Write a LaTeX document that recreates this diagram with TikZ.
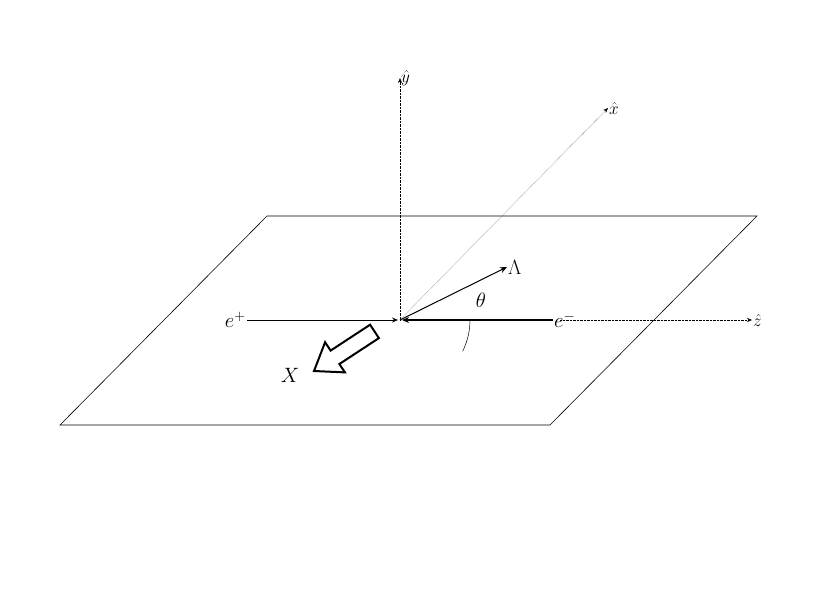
\documentclass[tikz,border=0pt]{standalone}
\usetikzlibrary{arrows.meta}
\begin{document}
\begin{tikzpicture}[x=1pt,y=-1pt,
  lbl/.style={font=\fontsize{22}{26}\selectfont,inner sep=1pt},
  hat/.style={font=\fontsize{16}{19}\selectfont,inner sep=1pt},
  axis/.style={densely dotted,-{Stealth[length=5pt,width=4pt]}},
  beam/.style={line width=1pt,-{Stealth[length=7pt,width=6pt]}}]
\useasboundingbox (0,0) rectangle (817,613);
\coordinate (o) at (400,320);
\draw[line width=0.6pt] (60,425) -- (550,425) -- (757,216) -- (267,216) -- cycle;
\coordinate (ye) at (400,78);
\coordinate (xe) at (608,108);
\coordinate (zs) at (560,320);
\coordinate (ze) at (752,320);
\draw[axis] (o) -- (ye);
\draw[axis] (o) -- (xe);
\draw[axis] (zs) -- (ze);
\node[hat,anchor=west] (yl) at (ye) {$\hat y$};
\node[hat,anchor=west] (xl) at (xe) {$\hat x$};
\node[hat,anchor=west] (zl) at (ze) {$\hat z$};
\coordinate (ep) at (247,320);
\coordinate (em) at (553,320);
\draw[line width=0.8pt,-{Stealth[length=6pt,width=5pt]}] (ep) -- (398,320);
\draw[line width=1.2pt,-{Stealth[length=7pt,width=6pt]}] (em) -- (402,320);
\node[lbl,anchor=east] (epl) at (ep) {$e^+$};
\node[lbl,anchor=west] (eml) at (em) {$e^-$};
\coordinate (L) at (507,267);
\draw[beam] (o) -- (L);
\node[lbl,anchor=west] (Ll) at (L) {$\Lambda$};
\draw[line width=0.5pt] (470,320) arc[start angle=0,end angle=26.5,radius=70];
\node[lbl] (th) at (481,300) {$\theta$};
\draw[line width=2pt,line join=miter]
  (314,371) -- (344.9,372.4) -- (339.4,364) -- (378.9,338.1) -- (370.1,324.7)
  -- (330.6,350.6) -- (325.1,342.2) -- cycle;
\node[lbl] (X) at (290,375) {$X$};
\end{tikzpicture}
\end{document}
